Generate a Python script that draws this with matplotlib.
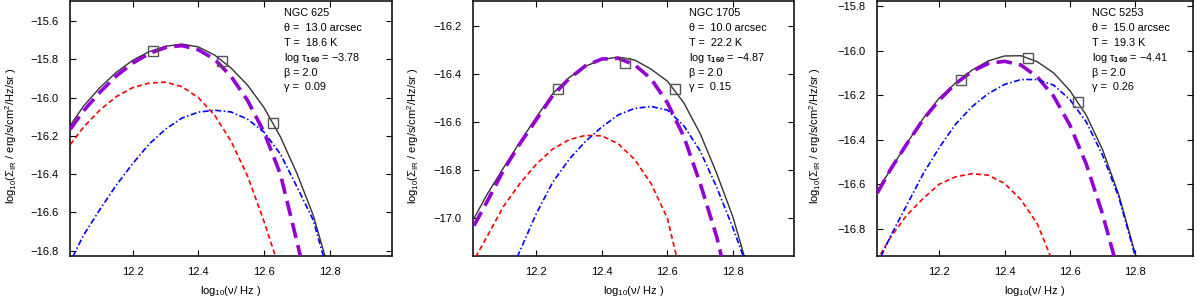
import matplotlib
matplotlib.use("Agg")
import matplotlib.pyplot as plt
from matplotlib.ticker import MultipleLocator, FuncFormatter

plt.rcParams["font.family"] = ["Liberation Sans", "DejaVu Sans"]
plt.rcParams["mathtext.fontset"] = "custom"
plt.rcParams["mathtext.rm"] = "Liberation Sans"
plt.rcParams["mathtext.it"] = "Liberation Sans:italic"
plt.rcParams["mathtext.bf"] = "Liberation Sans:bold"

# ---------------- NGC 625 ----------------
p1_total_x = [12.01, 12.05, 12.10, 12.15, 12.20, 12.25, 12.30, 12.35, 12.40, 12.45, 12.50, 12.55, 12.60, 12.65, 12.70, 12.75, 12.786]
p1_total_y = [-16.145, -16.045, -15.948, -15.868, -15.805, -15.760, -15.732, -15.720, -15.735, -15.778, -15.846, -15.935, -16.052, -16.205, -16.395, -16.615, -16.83]
p1_fit_x = [12.01, 12.05, 12.10, 12.15, 12.20, 12.25, 12.30, 12.35, 12.40, 12.45, 12.50, 12.55, 12.60, 12.65, 12.70, 12.711]
p1_fit_y = [-16.165, -16.07, -15.972, -15.887, -15.82, -15.77, -15.738, -15.728, -15.75, -15.80, -15.89, -16.015, -16.18, -16.40, -16.75, -16.83]
p1_cold_x = [12.01, 12.05, 12.10, 12.15, 12.20, 12.25, 12.30, 12.35, 12.40, 12.45, 12.50, 12.55, 12.60, 12.635]
p1_cold_y = [-16.245, -16.155, -16.065, -15.995, -15.948, -15.924, -15.919, -15.943, -16.0, -16.093, -16.229, -16.41, -16.647, -16.83]
p1_warm_x = [12.018, 12.05, 12.10, 12.15, 12.20, 12.25, 12.30, 12.35, 12.40, 12.45, 12.50, 12.55, 12.60, 12.65, 12.70, 12.75, 12.781]
p1_warm_y = [-16.83, -16.72, -16.585, -16.458, -16.345, -16.243, -16.165, -16.107, -16.076, -16.066, -16.075, -16.113, -16.18, -16.295, -16.465, -16.64, -16.83]
p1_obs_x = [12.263, 12.471, 12.626]
p1_obs_y = [-15.757, -15.808, -16.132]

# ---------------- NGC 1705 ----------------
p2_total_x = [12.01, 12.05, 12.10, 12.15, 12.20, 12.25, 12.30, 12.35, 12.40, 12.45, 12.50, 12.55, 12.60, 12.65, 12.70, 12.75, 12.80, 12.835]
p2_total_y = [-17.00, -16.90, -16.79, -16.683, -16.58, -16.482, -16.415, -16.368, -16.34, -16.33, -16.342, -16.38, -16.43, -16.52, -16.648, -16.812, -16.995, -17.16]
p2_fit_x = [12.01, 12.05, 12.10, 12.15, 12.20, 12.25, 12.30, 12.35, 12.40, 12.45, 12.50, 12.55, 12.60, 12.65, 12.70, 12.75, 12.765]
p2_fit_y = [-17.03, -16.93, -16.80, -16.69, -16.59, -16.49, -16.42, -16.366, -16.338, -16.335, -16.362, -16.42, -16.52, -16.66, -16.855, -17.075, -17.16]
p2_cold_x = [12.015, 12.05, 12.10, 12.15, 12.20, 12.25, 12.30, 12.35, 12.40, 12.45, 12.50, 12.55, 12.60, 12.628]
p2_cold_y = [-17.16, -17.075, -16.95, -16.855, -16.775, -16.712, -16.673, -16.655, -16.657, -16.69, -16.755, -16.855, -17.00, -17.16]
p2_warm_x = [12.142, 12.20, 12.25, 12.30, 12.35, 12.40, 12.45, 12.50, 12.55, 12.60, 12.65, 12.70, 12.75, 12.80, 12.832]
p2_warm_y = [-17.16, -16.98, -16.85, -16.755, -16.68, -16.62, -16.57, -16.543, -16.535, -16.55, -16.615, -16.72, -16.87, -17.04, -17.16]
p2_obs_x = [12.266, 12.472, 12.624]
p2_obs_y = [-16.464, -16.354, -16.464]

# ---------------- NGC 5253 ----------------
p3_total_x = [12.01, 12.05, 12.10, 12.15, 12.20, 12.25, 12.30, 12.35, 12.40, 12.45, 12.50, 12.55, 12.60, 12.65, 12.70, 12.75, 12.802]
p3_total_y = [-16.632, -16.535, -16.418, -16.306, -16.213, -16.145, -16.088, -16.046, -16.024, -16.023, -16.05, -16.10, -16.18, -16.29, -16.445, -16.65, -16.923]
p3_fit_x = [12.01, 12.05, 12.10, 12.15, 12.20, 12.25, 12.30, 12.35, 12.40, 12.45, 12.50, 12.55, 12.60, 12.65, 12.70, 12.735]
p3_fit_y = [-16.64, -16.535, -16.42, -16.31, -16.222, -16.148, -16.093, -16.058, -16.048, -16.065, -16.118, -16.205, -16.335, -16.51, -16.735, -16.923]
p3_cold_x = [12.02, 12.05, 12.10, 12.15, 12.20, 12.25, 12.30, 12.35, 12.40, 12.45, 12.50, 12.54]
p3_cold_y = [-16.915, -16.84, -16.74, -16.665, -16.60, -16.567, -16.553, -16.56, -16.597, -16.67, -16.778, -16.923]
p3_warm_x = [12.022, 12.05, 12.10, 12.15, 12.20, 12.25, 12.30, 12.35, 12.40, 12.45, 12.50, 12.55, 12.60, 12.65, 12.70, 12.75, 12.80]
p3_warm_y = [-16.923, -16.835, -16.695, -16.555, -16.435, -16.33, -16.252, -16.193, -16.152, -16.13, -16.13, -16.155, -16.22, -16.32, -16.47, -16.66, -16.923]
p3_obs_x = [12.265, 12.471, 12.625]
p3_obs_y = [-16.134, -16.033, -16.229]

names = ["NGC 625", "NGC 1705", "NGC 5253"]
theta = ["13.0", "10.0", "15.0"]
temps = ["18.6", "22.2", "19.3"]
logtau = ["\u22123.78", "\u22124.87", "\u22124.41"]
beta = ["2.0", "2.0", "2.0"]
gamma = ["0.09", "0.15", "0.26"]

panels = [
    (p1_total_x, p1_total_y, p1_fit_x, p1_fit_y, p1_cold_x, p1_cold_y, p1_warm_x, p1_warm_y, p1_obs_x, p1_obs_y),
    (p2_total_x, p2_total_y, p2_fit_x, p2_fit_y, p2_cold_x, p2_cold_y, p2_warm_x, p2_warm_y, p2_obs_x, p2_obs_y),
    (p3_total_x, p3_total_y, p3_fit_x, p3_fit_y, p3_cold_x, p3_cold_y, p3_warm_x, p3_warm_y, p3_obs_x, p3_obs_y),
]

# layout in pixels (left, right) of each frame, plus ranges
W, H = 1200, 303
frames = [(70, 392), (473, 794), (877, 1193)]
ylab_right = [19, 421, 823]
xlims = [(12.009, 12.99), (12.007, 12.986), (12.009, 12.977)]
ylims = [(-16.828, -15.495), (-17.156, -16.097), (-16.923, -15.777)]
text_left = [284, 689, 1092]

fig = plt.figure(figsize=(W / 100, H / 100), dpi=100)
minus = FuncFormatter(lambda v, p: ("%.1f" % v).replace("-", "\u2212"))

for i, d in enumerate(panels):
    tx, ty, fx, fy, cx, cy, wx, wy, ox, oy = d
    l, r = frames[i]
    ax = fig.add_axes([l / W, (H - 256) / H, (r - l) / W, 255 / H])

    ax.plot(tx, ty, "-", color="#333333", lw=1.0, zorder=2)
    ax.plot(fx, fy, color="#9400d3", lw=2.6, dashes=(4.3, 2.0), zorder=3)
    ax.plot(cx, cy, color="#ff0000", lw=1.2, dashes=(3.0, 1.9), zorder=3)
    ax.plot(wx, wy, color="#0000ff", lw=1.2, dashes=(3.6, 1.5, 0.9, 1.5), zorder=3)
    ax.plot(ox, oy, "s", ms=6.5, mfc="none", mec="#555555", mew=1.0, zorder=4)

    ax.set_xlim(*xlims[i])
    ax.set_ylim(*ylims[i])
    ax.set_xticks([12.2, 12.4, 12.6, 12.8])
    ax.xaxis.set_major_formatter(FuncFormatter(lambda v, p: "%.1f" % v))
    ax.yaxis.set_major_locator(MultipleLocator(0.2))
    ax.yaxis.set_major_formatter(minus)
    ax.tick_params(direction="in", length=4, width=0.8, top=True, right=True,
                   labelsize=8, pad=8)
    for s in ax.spines.values():
        s.set_linewidth(1.1)

    ax.set_xlabel("log$_{10}$(\u03bd/ Hz )", fontsize=8)
    ax.xaxis.set_label_coords(0.5, -(284 - 256) / 255)
    ax.set_ylabel("log$_{10}$(\u03a3$_{\\rm IR}$ / erg/s/cm$^{2}$/Hz/sr )", fontsize=8)
    ax.yaxis.set_label_coords((ylab_right[i] - l) / (r - l), 0.47)

    lines = [
        names[i],
        "\u03b8 =  %s arcsec" % theta[i],
        "T =  %s K" % temps[i],
        "log \u03c4$_{\\mathbf{160}}$ = %s" % logtau[i],
        "\u03b2 = %s" % beta[i],
        "\u03b3 =  %s" % gamma[i],
    ]
    tx0 = (text_left[i] - l) / (r - l)
    for k, s in enumerate(lines):
        py = 13.3 + k * 14.8
        ax.text(tx0, (256 - py) / 255, s, transform=ax.transAxes,
                fontsize=7.8, ha="left", va="center")

fig.savefig("out.png", dpi=100)
